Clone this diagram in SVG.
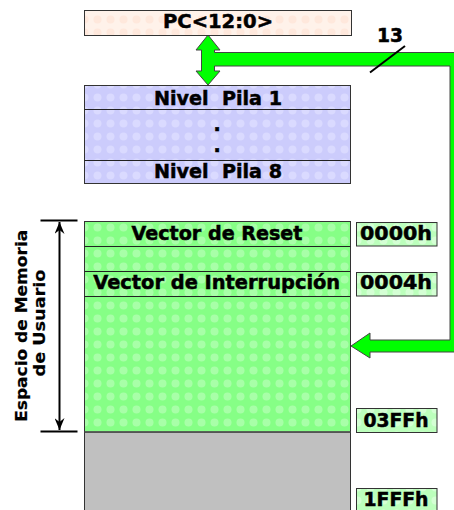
<svg xmlns="http://www.w3.org/2000/svg" width="454" height="510" viewBox="0 0 454 510">
<style>
.t{font-family:"DejaVu Sans","Liberation Sans",sans-serif;font-weight:bold;fill:#000;stroke:#000;stroke-width:0.5}
.c{text-anchor:middle}
.box{stroke:#333;stroke-width:1}
.sep{stroke:#222;stroke-width:1;fill:none}
.dim{stroke:#000;stroke-width:2;fill:none}
</style>
<defs>
<pattern id="pg" width="13" height="13" patternUnits="userSpaceOnUse">
<rect width="13" height="13" fill="#86FF86"/>
<circle cx="6.5" cy="6.5" r="4" fill="#A8FFA8"/>
</pattern>
<pattern id="pgl" width="13" height="13" patternUnits="userSpaceOnUse">
<rect width="13" height="13" fill="#BCFFBC"/>
<circle cx="6.5" cy="6.5" r="4" fill="#D4FFD4"/>
</pattern>
<pattern id="pl" width="13" height="13" patternUnits="userSpaceOnUse">
<rect width="13" height="13" fill="#CCCCFC"/>
<circle cx="6.5" cy="6.5" r="4" fill="#DADAFF"/>
</pattern>
<pattern id="pp" width="13" height="13" patternUnits="userSpaceOnUse">
<rect width="13" height="13" fill="#FFF2EA"/>
<circle cx="6.5" cy="6.5" r="4" fill="#FFE8DC"/>
</pattern>
<marker id="ah" viewBox="0 0 12 10" refX="12" refY="5" markerWidth="12" markerHeight="10" markerUnits="userSpaceOnUse" orient="auto-start-reverse">
<path d="M0,0 L12,5 L0,10 L4,5 Z" fill="#000"/>
</marker>
</defs>

<g id="connectors">
<polygon points="208,35 220,50 214.5,50 214.5,52.5 464,52.5 464,352 370,352 370,358 351,346 370,333 370,340 450,340 450,66 214.5,66 214.5,71 220,71 208,85 196,71 201.5,71 201.5,50 196,50" fill="#00FF00" stroke="#444" stroke-width="1"/>
<line x1="370" y1="72.5" x2="405" y2="46" stroke="#000" stroke-width="2"/>
<text class="t" x="390" y="41.5" font-size="19" text-anchor="middle" textLength="26" lengthAdjust="spacingAndGlyphs">13</text>
</g>

<g id="pc">
<rect class="box" x="84.5" y="10.5" width="267" height="25" fill="url(#pp)"/>
<text class="t c" x="218" y="28.3" font-size="19" textLength="110" lengthAdjust="spacingAndGlyphs">PC&lt;12:0&gt;</text>
</g>

<g id="stack">
<rect class="box" x="84.5" y="85.5" width="266" height="98" fill="url(#pl)"/>
<line class="sep" x1="84.5" y1="109.5" x2="350.5" y2="109.5"/>
<line class="sep" x1="84.5" y1="160.5" x2="350.5" y2="160.5"/>
<text class="t c" x="218" y="105" font-size="19" textLength="128" lengthAdjust="spacingAndGlyphs" xml:space="preserve">Nivel  Pila 1</text>
<text class="t c" x="217" y="131" font-size="19">.</text>
<text class="t c" x="217" y="152" font-size="19">.</text>
<text class="t c" x="218" y="178" font-size="19" textLength="128" lengthAdjust="spacingAndGlyphs" xml:space="preserve">Nivel  Pila 8</text>
</g>

<g id="memory">
<rect x="84.5" y="432" width="266" height="80" fill="#C0C0C0" stroke="#333" stroke-width="1"/>
<rect class="box" x="84.5" y="221.5" width="266" height="210.5" fill="url(#pg)"/>
<line class="sep" x1="84.5" y1="246.5" x2="350.5" y2="246.5"/>
<line class="sep" x1="84.5" y1="271.5" x2="350.5" y2="271.5"/>
<line class="sep" x1="84.5" y1="296.5" x2="350.5" y2="296.5"/>
<line x1="84.5" y1="432" x2="350.5" y2="432" stroke="#555" stroke-width="1.5"/>
<text class="t c" x="217" y="240" font-size="19.5" textLength="171" lengthAdjust="spacingAndGlyphs">Vector de Reset</text>
<text class="t c" x="216.7" y="289" font-size="19.5" textLength="247" lengthAdjust="spacingAndGlyphs">Vector de Interrupción</text>
</g>

<g id="addr0000">
<rect class="box" x="356.5" y="222.5" width="80.5" height="23.5" fill="url(#pgl)"/>
<text class="t c" x="396" y="240" font-size="19.5" textLength="72" lengthAdjust="spacingAndGlyphs">0000h</text>
</g>
<g id="addr0004">
<rect class="box" x="356.5" y="272.5" width="80.5" height="23.5" fill="url(#pgl)"/>
<text class="t c" x="396" y="289" font-size="19.5" textLength="72" lengthAdjust="spacingAndGlyphs">0004h</text>
</g>
<g id="addr03FF">
<rect class="box" x="356.5" y="408.5" width="80.5" height="24" fill="url(#pgl)"/>
<text class="t c" x="396" y="426.7" font-size="19.5" textLength="65" lengthAdjust="spacingAndGlyphs">03FFh</text>
</g>
<g id="addr1FFF">
<rect class="box" x="356.5" y="488.5" width="80.5" height="24" fill="url(#pgl)"/>
<text class="t c" x="396" y="506" font-size="19" textLength="65" lengthAdjust="spacingAndGlyphs">1FFFh</text>
</g>

<g id="dimension">
<line class="dim" x1="40.5" y1="220.5" x2="77.5" y2="220.5"/>
<line class="dim" x1="40.5" y1="431.5" x2="77.5" y2="431.5"/>
<line class="dim" x1="59.5" y1="222" x2="59.5" y2="430" marker-start="url(#ah)" marker-end="url(#ah)"/>
<text class="t c" transform="translate(27,325.8) rotate(-90)" font-size="16.5" textLength="192" lengthAdjust="spacingAndGlyphs" style="stroke-width:0.2">Espacio de Memoria</text>
<text class="t c" transform="translate(45,323) rotate(-90)" font-size="16.5" textLength="107" lengthAdjust="spacingAndGlyphs" style="stroke-width:0.2">de Usuario</text>
</g>
</svg>
